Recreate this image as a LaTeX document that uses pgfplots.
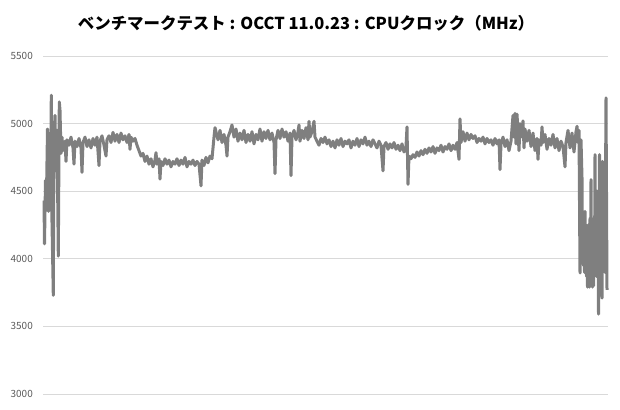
\documentclass[border=0pt]{standalone}
\usepackage{fontspec}
\setmainfont{Noto Sans CJK JP}
\usepackage{pgfplots}
\pgfplotsset{compat=1.18}

\definecolor{linegray}{HTML}{7F7F7F}
\definecolor{gridgray}{HTML}{D9D9D9}
\definecolor{ticktext}{HTML}{595959}

\begin{document}
\begin{tikzpicture}
\path[use as bounding box] (0,0) rectangle (620bp,410bp);

\node[font=\fontsize{16.5}{19}\selectfont\bfseries, anchor=center] at (306bp,387bp)
  {ベンチマークテスト : OCCT 11.0.23 : CPUクロック（MHz）};

\begin{axis}[
  at={(43bp,16bp)}, anchor=south west,
  scale only axis, width=565bp, height=338bp,
  xmin=43, xmax=608, ymin=3000, ymax=5500,
  xtick=\empty,
  ytick={3000,3500,4000,4500,5000,5500},
  axis line style={draw=none},
  ymajorgrids,
  grid style={draw=gridgray, line width=0.75bp},
  major tick length=0pt,
  /pgf/number format/assume math mode=true,
  /pgf/number format/1000 sep={},
  yticklabel style={font=\fontsize{10}{12}\selectfont, text=ticktext, inner sep=0pt, xshift=-10bp},
  clip=false,
]
% CPU clock (MHz), x = sample position
\addplot[color=linegray, line width=3bp, line join=round] coordinates {
(44,4430) (44.5,4110) (45.5,4580) (46.5,4480) (47.5,4960) (48.5,4350) (49.5,4900)
(50.5,4480) (51.3,5210) (52,4270) (53.3,3730) (54,4900) (55,5060) (56,4650)
(57,4950) (58.3,4020) (59.3,5160) (60,5100) (61,4780) (62,4900)
(63,4800) (65,4870) (66,4720) (67,4880) (69,4840) (71,4900) (73,4820) (74,4700)
(75,4870) (77,4830) (79,4890) (81,4820) (82,4640) (83,4860) (85,4900) (87,4830)
(89,4880) (91,4820) (93,4890) (95,4840) (97,4900) (99,4690) (100,4870) (102,4910)
(104,4840) (106,4760) (107,4880) (109,4910) (111,4860) (113,4935) (115,4870)
(117,4920) (119,4860) (121,4930) (123,4880) (125,4910) (127,4860) (129,4920)
(130,4810) (131,4900) (133,4870) (135,4890)
(137,4840) (139,4800) (141,4760) (143,4780) (145,4720)
(147,4760) (149,4700) (151,4740) (153,4680) (155,4730) (156,4785) (157,4700)
(159,4740) (160,4590) (161,4720) (163,4690) (165,4740) (167,4700) (169,4730)
(171,4680) (173,4720) (175,4700) (177,4740) (179,4690) (181,4730) (183,4700)
(185,4750) (187,4680) (189,4720) (191,4700) (193,4730) (195,4690) (197,4720)
(199,4700) (201,4540) (202,4730) (204,4690) (206,4750) (208,4710) (210,4760)
(212,4740) (213,4820) (214,4900) (215,4970) (216,4940)
(218,4880) (220,4950) (222,4860) (224,4920) (226,4840) (227,4760) (228,4900)
(230,4940) (232,4990) (234,4900) (236,4960) (238,4870) (240,4930) (242,4880)
(244,4950) (246,4860) (248,4920) (250,4870) (252,4940) (254,4850) (256,4920)
(258,4880) (260,4960) (262,4870) (264,4940) (266,4890) (268,4950) (270,4880)
(272,4930) (274,4860) (275,4630) (276,4880) (278,4950) (280,4890) (282,4960)
(284,4900) (286,4940) (288,4870) (290,4930) (291,4615) (292,4900) (294,4950)
(296,4880) (298,4940) (299,4990) (300,4870) (302,4950) (304,4890) (306,4970)
(308,4880) (309,5017) (310,4900) (312,4940) (314,5017) (315,4900) (317,4870)
(319,4840) (321,4890) (323,4860) (325,4900) (327,4850) (329,4880) (331,4830)
(333,4870) (335,4820) (337,4880) (339,4840) (341,4890) (343,4830) (345,4870)
(347,4850) (349,4880) (351,4820) (353,4870) (355,4840) (357,4890) (359,4830)
(361,4880) (363,4850) (365,4900) (367,4840) (369,4870) (371,4830) (373,4880)
(375,4850) (377,4820) (379,4870) (381,4840) (383,4650) (384,4830) (386,4860)
(388,4810) (390,4850) (392,4820) (394,4860) (396,4810) (398,4840) (400,4800)
(402,4850) (404,4790) (406,4830) (407,4975) (408,4550) (409,4760)
(411,4740) (413,4770) (415,4750) (417,4790) (419,4760) (421,4800) (423,4770)
(425,4810) (427,4780) (429,4820) (431,4790) (433,4830) (435,4780) (437,4820)
(439,4800) (441,4840) (443,4790) (445,4830) (447,4810) (449,4850) (451,4800)
(453,4840) (455,4810) (457,4860) (459,4735) (460,5035) (461,4860)
(463,4940) (465,4870) (467,4930) (469,4880) (471,4920) (473,4890) (475,4910)
(477,4860) (479,4890) (481,4870) (483,4900) (485,4850) (487,4890) (489,4860)
(491,4880) (493,4840) (495,4890) (497,4850) (499,4880) (500,4660) (501,4850)
(503,4900) (505,4830) (507,4880) (509,4800) (511,4870)
(513,5060) (514,4900) (515,5075) (516,4850) (517,5070) (518,4940) (519,4800)
(520,5000) (522,4900) (523,5020) (524,4820) (525,4960)
(527,4870) (529,4950) (531,4830) (533,4930) (535,4800) (537,4890) (538,4735)
(539,4880) (541,4840) (542,4975) (543,4860) (545,4920) (547,4810) (549,4890)
(551,4840) (553,4920) (555,4820) (557,4890) (559,4800) (561,4870) (563,4830)
(565,4680) (566,4860) (568,4950) (570,4820) (572,4930) (574,4790) (576,4940)
(577,4980) (578,4860) (579,4950)
(580,3895) (581,4880) (582,4600) (582.5,4020) (583,4350) (583.5,3950) (584,4300)
(584.5,3900) (585,4350) (585.5,4050) (586,4250) (586.5,3870) (587,4200)
(587.5,3790) (588,4250) (588.5,3800) (589,4100) (589.5,3790) (590,4300)
(590.5,3850) (591,4585) (591.5,3950) (592,4250) (592.5,3790) (593,4100)
(593.5,3800) (594,4300) (594.5,3900) (595,4770) (595.5,4000) (596,4300)
(596.5,3870) (597,4500) (597.5,4100) (598,4350) (598.5,3590) (599,4200)
(599.5,4770) (600,4000) (600.5,4350) (601,4100) (601.5,4300) (602,3710)
(602.5,4720) (603,4000) (603.5,4290) (604,4100) (604.5,4250) (605,3900)
(606,5190) (607,3770)
};
\end{axis}
\end{tikzpicture}
\end{document}
